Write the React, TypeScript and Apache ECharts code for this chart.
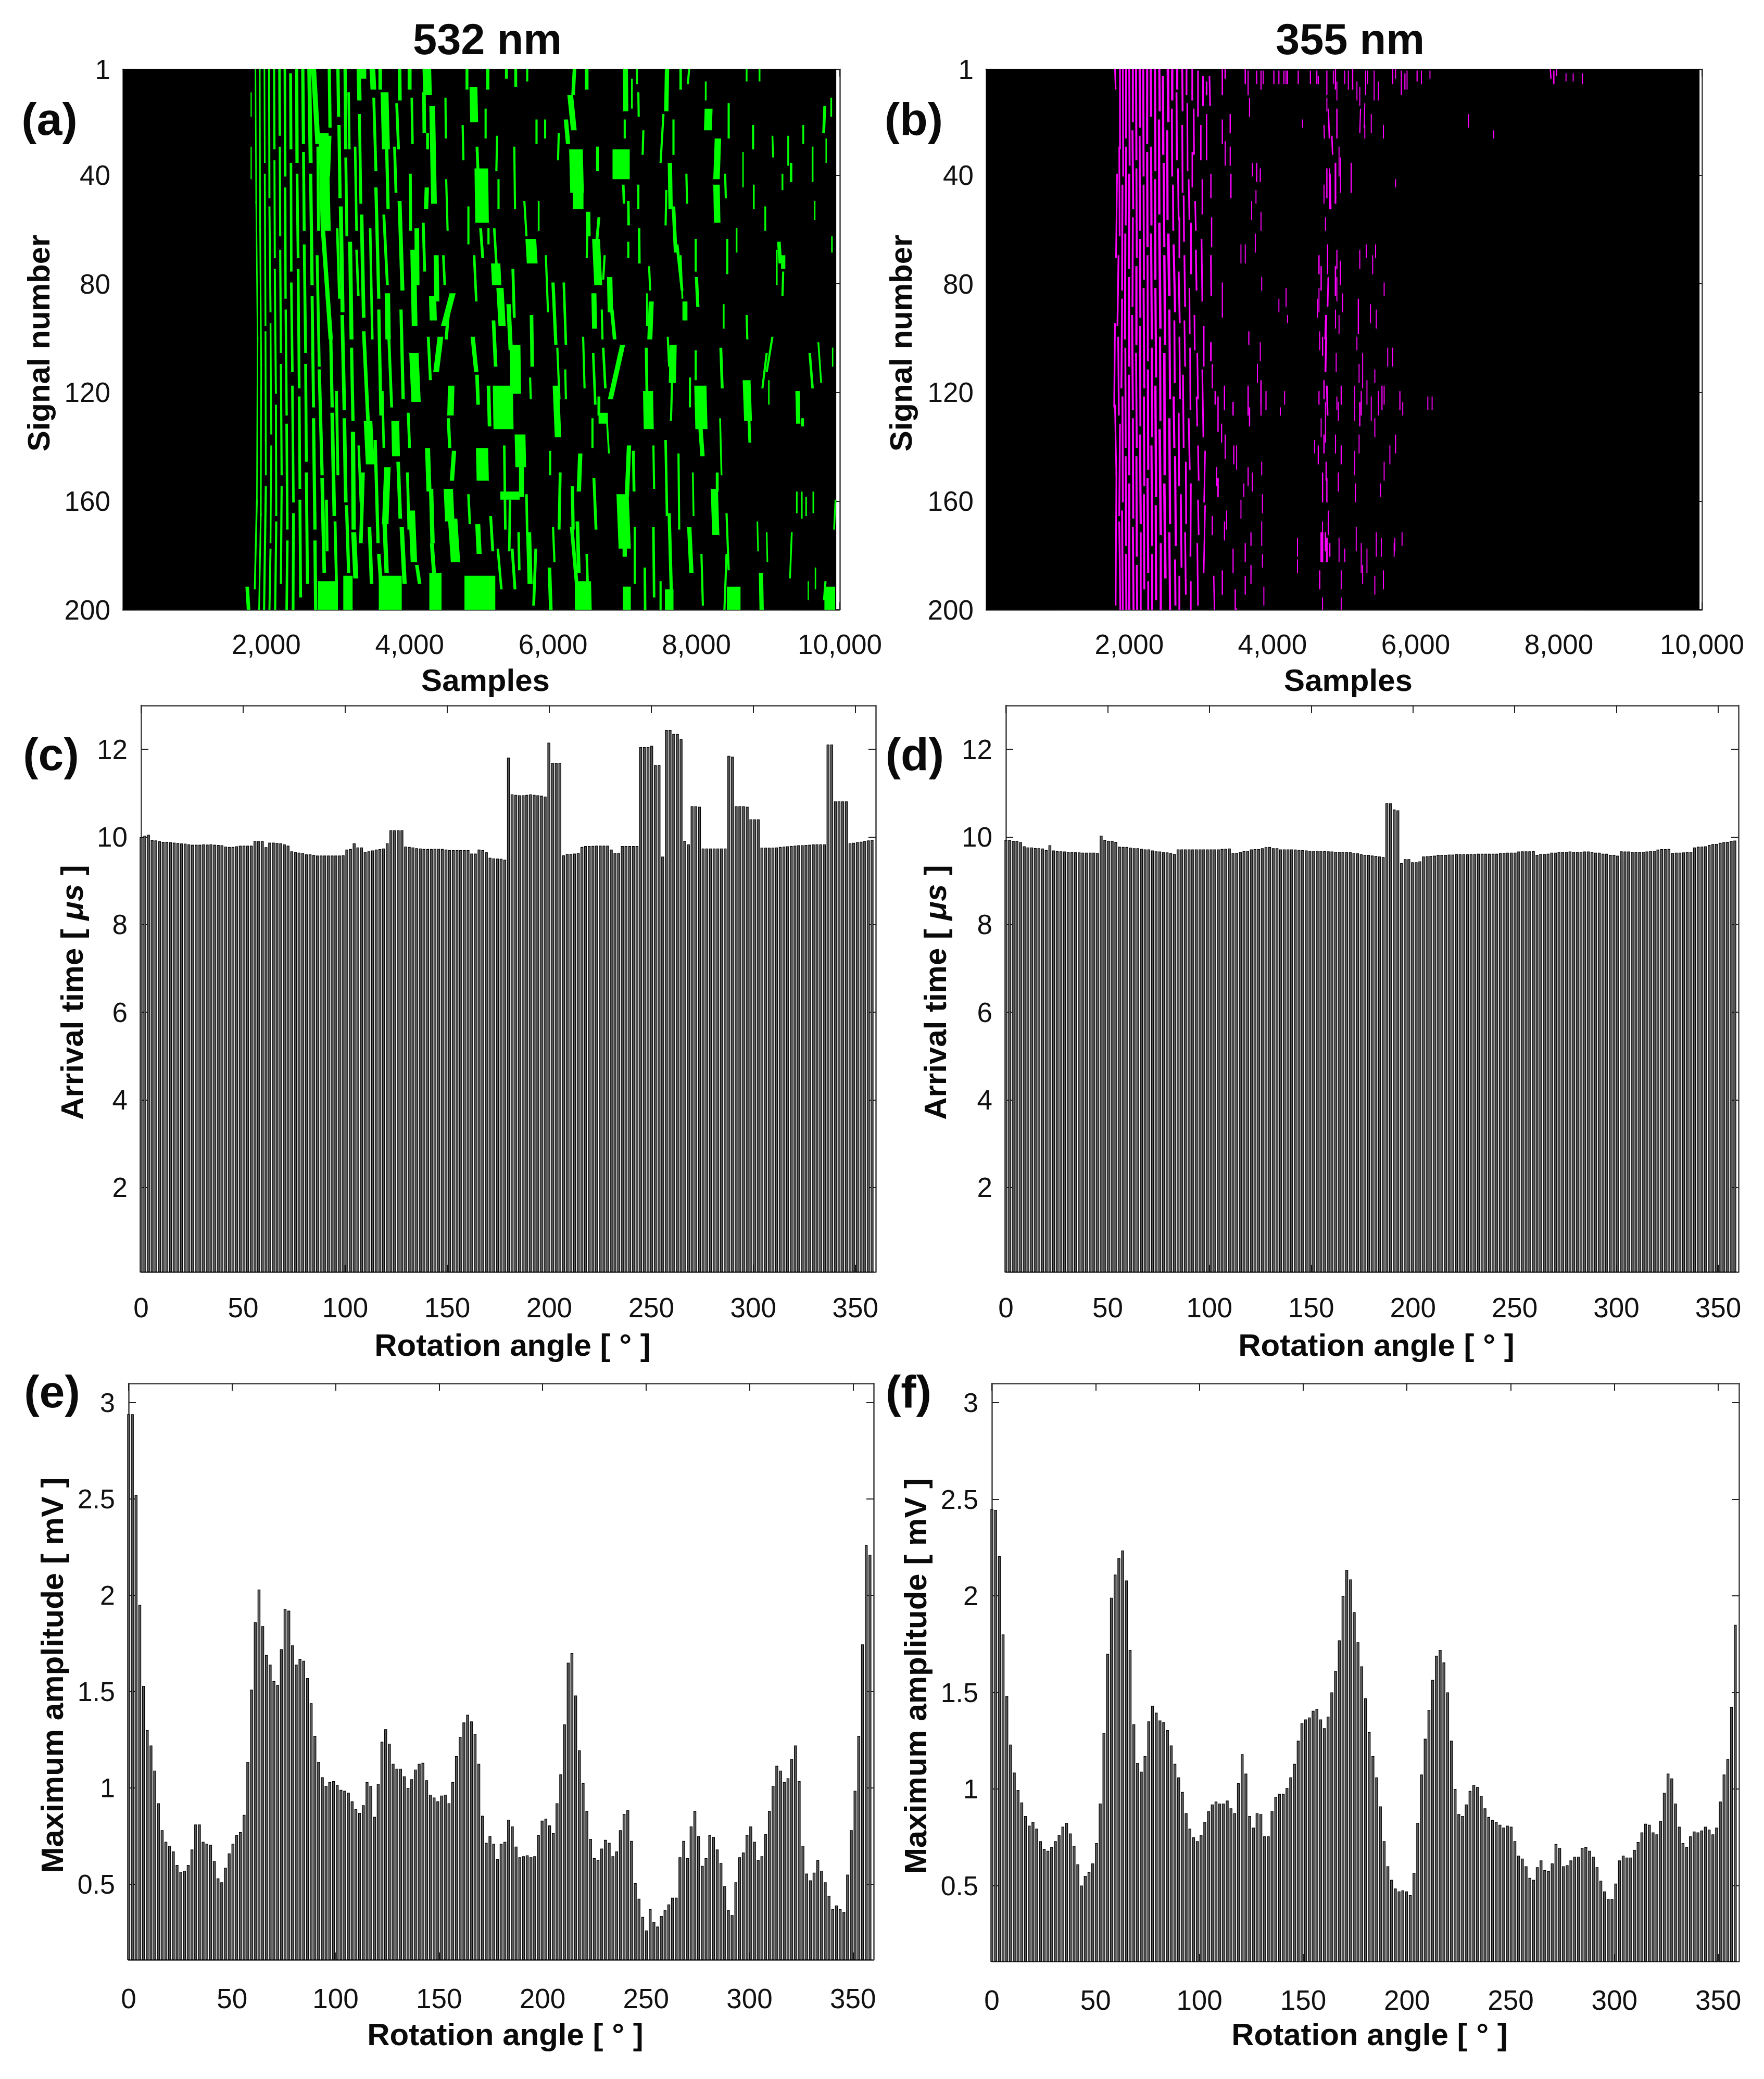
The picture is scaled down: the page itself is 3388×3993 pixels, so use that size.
import React, { useEffect, useRef } from "react";
import * as echarts from "echarts";

const FONT = "Liberation Sans";

// x, first signal, last signal, width in samples, optional drift of x along the streak
const greenStreaks: number[][] = [
[1850,1,50,20,10],[1860,50,100,20,20],[1880,100,160,20,-10],[1870,160,192,25,-30],[1735,192,200,50,20],[1790,10,18,16],[1790,30,41,16],
[1910,1,60,22,5],[1915,60,110,22,15],[1930,110,165,22,-5],[1925,165,200,22,-25],
[1975,1,35,22,5],[1980,40,95,25,10],[1990,98,150,25,5],[1995,155,200,30,-25],
[2040,1,48,28,5],[2045,52,90,28,15],[2060,95,135,25,10],[2070,140,175,25,-10],[2060,178,200,28,-15],
[2110,1,30,30,5],[2115,35,70,28,5],[2120,75,120,28,15],[2135,125,165,28,5],[2140,168,200,30,-15],
[2185,1,25,35,5],[2190,30,62,30,5],[2195,68,105,30,10],[2205,110,150,30,10],[2215,155,190,30,-10],
[2260,1,40,35,5],[2265,45,85,32,5],[2272,90,128,32,13],[2285,132,170,35,10],[2295,175,200,35,-10],
[2340,3,30,40,5],[2345,36,75,35,5],[2350,80,112,35,15],[2365,118,160,35,15],[2380,165,200,38,-5],
[2425,1,35,45,5],[2430,40,70,38,15],[2445,75,118,38,15],[2460,122,155,38,10],[2470,160,195,40,10],
[2510,1,28,45,10],[2520,32,60,40,10],[2530,66,105,40,20],[2550,110,145,40,10],[2560,150,190,42,15],
[2600,1,35,55,20],[2620,40,80,45,20],[2640,85,125,42,20],[2660,130,170,45,20],[2680,175,200,45,10],
[2660,1,28,70,60],[2800,25,60,140,30],[2790,60,100,60,110],[2710,70,110,40,30],[2740,112,150,45,40],[2780,152,186,50,30],[2720,30,60,40,10],
[2860,190,200,280],[2880,1,22,45,10],[2890,26,40,40,-20],[2900,100,125,45,20],[2920,128,165,50,30],[2960,168,190,40,20],[2840,160,178,40,10],
[3140,188,200,130],[3000,1,18,45,10],[3015,22,48,45,15],[3040,52,90,55,25],[3060,92,126,50,30],[3090,130,160,50,20],[3120,162,186,45,30],[2990,60,85,35,30],[2980,120,150,40,20],
[3100,1,30,45,10],[3110,34,62,40,15],[3170,65,100,55,20],[3190,104,130,45,20],[3210,135,170,60,10],[3220,172,188,70,30],[3150,10,30,35,10],
[3290,1,12,60,10],[3330,1,4,130],[3300,18,50,40,20],[3330,55,92,50,30],[3360,98,130,50,60],[3420,131,146,120,30],[3350,150,175,50,-30],[3290,140,160,35,30],[3240,30,60,35,20],[3260,68,84,35,25],
[3480,1,8,80,15],[3500,12,38,40,30],[3530,45,85,45,40],[3570,90,128,45,30],[3450,60,100,35,30],[3520,138,175,45,40],[3570,180,190,50,30],[3440,170,190,50,30],
[3650,10,30,110,20],[3680,30,52,45,20],[3640,55,80,40,50],[3690,84,100,75,10],[3710,100,125,40,40],[3800,131,143,110,10],[3690,148,168,90,-30],[3650,168,186,60,30],[3730,188,200,320],[3590,1,8,50],[3620,120,140,35,20],
[3860,1,12,50,5],[3790,30,46,40,20],[3860,50,82,55,40],[3880,90,122,45,30],[3840,146,166,50,30],[3890,170,190,60,40],[3820,14,30,40,25],
[4000,1,8,55],[4030,12,28,35,10],[4050,68,95,80,20],[4100,60,80,65,5],[4060,106,123,130,30],[4010,40,60,40,5],[4030,164,182,90,30],[3980,128,140,40,20],[3970,150,170,40,20],[4100,184,190,50,40],
[4240,1,10,120,10],[4200,10,24,50,5],[4250,25,30,40],[4315,15,50,80,25],[4240,45,52,60,-10],[4190,58,75,40,20],[4250,141,156,70,20],[4300,156,175,60,20],[4320,85,93,100,10],[4360,187,200,170],[4260,100,115,40,30],[4370,70,86,70,10],[4310,176,186,55,30],
[4600,84,95,85,-120],[4430,100,112,80,-60],[4540,156,167,130,20],[4600,167,182,130,40],[4550,88,100,45,-40],[4580,118,128,90,-10],[4540,130,140,45,20],[4500,12,26,30,5],[4510,42,60,30,20],[4620,142,152,60,-30],[4470,70,80,35,20],
[4890,8,20,110,10],[4800,1,8,40],[4740,22,34,30,10],[5000,38,57,190,10],[4880,100,112,60,50],[4940,114,124,50,15],[4820,158,168,35,20],[4950,169,179,70,20],[4980,188,200,430],[4940,30,42,40,20],[4820,52,65,30],[5010,141,152,170,10],[4990,60,70,40,30],[4900,70,86,35,30],[5100,118,132,50,15],
[5200,73,80,130,15],[5180,60,72,35,30],[5260,82,95,100,30],[5090,1,8,45],[5060,16,26,30],[5220,26,38,30,-10],[5100,60,65,30],[5300,118,133,280,10],[5130,166,178,40,30],[5230,178,192,35,50],[5320,140,170,35,15],[5240,42,52,30],[5170,94,110,50,30],
[5470,103,120,150,10],[5400,157,159,270],[5380,88,104,60,30],[5440,75,92,40,20],[5400,160,178,35,-10],[5540,136,147,150,10],[5480,1,7,40],[5350,1,4,40],[5560,147,158,70],[5430,178,192,40,40],[5460,30,52,30,10],[5630,158,172,35,10],[5520,172,185,35,10],
[5690,64,72,150,20],[5600,50,62,30,30],[5640,1,5,30],[5700,92,110,50,10],[5660,172,190,70,20],[5760,178,198,40,-30],[5770,20,28,30],[5680,115,122,30,10],[5800,50,60,25],
[6040,118,136,90,30],[5890,20,26,30],[6000,80,102,45,40],[6060,104,122,30,30],[5950,185,200,50,20],[5900,70,90,30,30],[6100,150,170,40,-15],[6080,25,34,30,-10],[5960,142,150,30],[6000,170,182,30,20],
[6240,11,23,80,50],[6180,20,28,60,30],[6320,31,46,190,15],[6350,46,52,150],[6300,1,10,50,-20],[6380,143,156,60,-20],[6270,155,170,45,10],[6400,190,200,190],[6260,170,190,50,70],[6340,168,186,50,20],[6150,80,102,35,30],[6170,112,122,30,10],[6420,100,118,30,20],
[6600,64,80,110,30],[6490,54,62,60,5],[6640,56,64,40,-30],[6570,84,96,70,10],[6470,1,8,50],[6480,60,70,30,-10],[6560,106,124,35,30],[6550,130,140,30],[6570,152,170,40,30],[6470,180,196,35,20],[6620,30,38,40],[6500,190,200,60,10],
[6790,78,90,75,10],[6820,90,100,50,40],[6970,103,122,70,-170],[6700,128,131,130],[6750,130,142,25,30],[6640,122,128,40],[6720,70,78,30,-20],[6700,104,118,35,30],[6680,90,100,30,10],
[6950,31,41,240],[7010,1,16,70,5],[6980,44,50,35,10],[7050,50,58,35,5],[7050,65,70,30],[7000,20,26,30],[7060,140,158,60,-30],[6970,158,177,170,30],[7030,192,200,110],[7100,5,15,25],[7120,142,156,40,10],[7000,177,180,60],[7170,1,6,30],
[7200,60,72,35,5],[7190,10,18,30,5],[7190,44,52,30],[7260,24,32,30,-10],[7370,87,100,70,-20],[7325,120,133,140,10],[7300,104,120,40,10],[7400,140,155,30,10],[7340,74,82,30,15],[7310,84,95,25],[7400,170,195,35,10],[7280,185,200,35,5],[7140,170,190,30],
[7590,1,16,60,-10],[7630,36,52,60,10],[7540,18,35,30,-40],[7680,52,68,50,30],[7730,66,82,40,70],[7840,87,93,70],[7500,190,200,30],[7675,103,116,100,-10],[7600,100,110,30,20],[7660,117,130,30,-15],[7570,138,165,35,20],[7620,165,193,45,30],[7620,193,200,120],[7750,143,170,30,10],[7680,20,32,30],[7580,46,58,30,-10],[7780,1,8,35],[7860,40,50,30,10],
[7900,170,186,60,30],[7990,64,75,30],[8000,78,88,45,20],[7910,115,125,30],[7950,150,165,25,10],[8170,16,23,110,-10],[8055,118,133,170,15],[8055,133,143,60,30],[7990,105,115,30],[8130,6,12,25],[7900,1,6,30,-20],[8070,180,198,30,20],[7780,70,85,25,25],
[8300,27,41,90,-20],[8280,44,57,90,10],[8250,156,172,100,20],[8420,165,185,30,30],[8330,130,150,25,20],[8290,150,156,40],[8450,14,26,30],[8400,40,48,30,10],[8340,104,118,40,20],[8430,64,76,30],[8420,180,200,30,-30],[8520,192,200,190],[8380,88,96,25],[8560,60,68,25],
[8700,116,130,110,20],[8730,128,138,40,15],[8700,92,100,30,10],[8960,52,60,25],[8800,44,52,25],[8900,187,200,60,10],[8790,22,30,30],[8980,106,118,30,-60],[9060,100,112,30,-80],[8700,1,5,25],[8880,1,5,25],[9010,116,124,20],[8650,32,44,20],[8850,168,178,22,10],[8980,172,182,22,10],
[9120,68,80,25],[9150,65,72,50,20],[9210,70,74,60],[9060,26,33,25,10],[9210,76,84,30,-10],[9280,26,36,25],[9410,120,131,60,10],[9320,36,42,35],[9200,40,45,25],[9330,172,188,25,-25],[9400,157,164,22],[9470,157,166,22],[9530,159,165,22],[9630,157,164,22],[9490,22,28,25],[9580,106,118,35,40],[9700,102,116,25,40],[9790,15,24,40,-15],[9620,30,42,25],[9650,50,56,20],[9480,130,132,40],[9660,185,192,20],
[9860,192,200,150],[9880,12,18,25],[9810,27,35,20],[9890,63,68,22],[9900,104,110,20],[9940,160,170,25,-20],[9800,190,196,30,-20],[9560,190,196,18],
];

const magentaStreaks: number[][] = [
[1800,1,8,22,10],[1830,40,70,22,-15],[1800,95,125,24,-10],[1800,125,150,22,20],[1820,150,198,22,-10],
[1870,1,30,24,0],[1860,30,62,22,5],[1850,70,95,24,-15],[1845,100,128,24,10],[1870,132,165,24,-10],[1860,168,200,24,15],
[1910,1,40,24,5],[1905,44,82,26,-5],[1900,86,118,26,-10],[1905,122,160,26,5],[1900,164,200,26,10],
[1955,1,26,26,0],[1955,30,58,26,-5],[1945,62,100,28,-5],[1945,104,140,26,5],[1950,144,176,26,5],[1955,180,200,28,5],
[2000,1,36,26,5],[2000,40,74,28,-5],[1995,78,110,28,5],[1995,114,150,28,5],[2000,154,200,28,0],
[2050,1,20,28,0],[2045,24,52,28,10],[2050,56,88,26,-5],[2040,92,126,28,10],[2050,130,166,28,5],[2050,170,200,28,10],
[2095,1,34,28,5],[2100,38,70,26,5],[2100,74,102,30,0],[2095,106,140,26,10],[2100,144,180,28,5],[2105,184,200,26,5],
[2145,1,22,30,5],[2145,26,60,26,5],[2150,64,92,28,5],[2150,96,132,26,5],[2150,136,168,30,10],[2160,172,200,26,0],
[2195,1,40,28,5],[2200,44,78,26,5],[2200,82,118,28,10],[2205,122,154,28,5],[2205,158,192,28,5],
[2250,1,28,30,0],[2250,32,66,30,5],[2255,70,108,26,5],[2260,112,148,30,5],[2255,152,186,30,10],[2265,190,200,26,0],
[2300,1,18,32,5],[2305,30,58,30,5],[2305,62,100,30,10],[2315,104,136,30,5],[2310,140,176,30,10],[2320,180,200,30,0],
[2360,1,38,28,5],[2360,42,78,30,5],[2365,82,114,30,10],[2365,118,158,32,10],[2370,162,196,30,5],
[2420,1,16,30,5],[2415,20,54,32,5],[2420,58,96,34,15],[2430,100,130,30,5],[2425,134,172,34,15],[2440,176,200,30,0],
[2470,4,32,32,5],[2480,36,66,30,10],[2490,70,102,32,10],[2490,106,150,34,5],[2490,154,188,34,15],
[2540,1,20,36,5],[2530,24,56,30,5],[2545,62,84,36,15],[2560,90,122,30,10],[2560,130,168,32,10],[2560,172,200,30,10],
[2600,1,12,32],[2595,16,40,26,5],[2610,44,60,26,5],[2620,66,90,30,20],[2630,94,116,26,5],[2620,122,140,30,10],[2640,144,176,30,10],[2640,182,198,28,5],
[2670,1,8,30],[2660,10,34,26,5],[2680,38,56,24,10],[2700,56,70,24],[2690,76,94,26,15],[2700,100,122,24,10],[2690,128,154,26,5],[2720,158,184,26,10],[2700,188,200,26],
[2740,1,16,26,5],[2740,22,46,24,5],[2760,48,64,24,5],[2770,70,88,24,10],[2770,94,110,22,10],[2750,114,140,24,10],[2790,146,168,24,5],[2780,172,194,24,10],
[2800,1,10,24],[2810,14,38,22,5],[2830,42,56,22,10],[2860,58,76,26,5],[2840,82,98,22,5],[2850,104,126,24,5],[2830,130,148,24,15],[2860,154,180,24,-5],[2860,190,200,22],
[2880,1,12,24],[2900,16,32,22,5],[2880,32,44,20],[2920,50,60,22,10],[2930,68,82,24,10],[2910,92,104,22,5],[2950,106,122,22,10],[2940,122,132,22,10],[2960,140,152,22,10],[2960,160,172,22,10],[2950,176,198,22,10],
[2960,2,18,22],[3030,4,14,22],[3000,22,34,20],[3020,42,54,20],[3010,64,86,22,10],[3040,96,110,22],[3020,112,136,22,15],[3060,142,160,20,-15],[3060,162,186,20,-20],[3080,6,10,22],
[3080,18,34,20],[3120,4,14,22,10],[3140,40,48,18],[3150,56,66,18],[3140,70,84,22,5],[3140,102,108,22],[3160,110,118,18],[3200,120,124,18],[3240,122,134,18],[3180,188,200,18,10],[3160,166,172,18],[3220,148,154,18],[3240,152,158,20],
[3300,1,10,20],[3340,1,4,20],[3300,20,28,18],[3340,28,36,16],[3330,118,126,18],[3300,80,92,16],[3290,132,138,16],[3340,136,144,16],[3330,168,174,16],[3360,164,170,16],[3300,186,194,18],[3410,18,24,18],[3410,30,36,16],[3420,40,48,18],[3450,124,128,18],[3460,140,146,16],[3450,178,186,16],
[3480,193,200,18],[3500,200,200,14],[3620,1,6,18],[3660,2,10,16],[3680,12,18,16],[3660,118,128,18],[3680,126,132,18],[3720,36,40,16],[3710,50,56,14],[3670,98,102,16],[3660,148,154,16],[3700,172,176,16],[3700,184,190,16],[3720,150,156,16],[3560,160,166,14],[3500,140,148,14],[3600,154,158,14],[3620,176,182,16],[3620,188,194,16],[3560,66,72,14],[3620,66,72,14],
[3780,2,6,16],[3780,36,42,18],[3840,2,8,16],[3870,2,6,14],[3830,38,42,16],[3770,46,50,14],[3760,62,68,14],[3840,54,60,14],[3850,78,82,14],[3840,116,124,18],[3830,102,108,14],[3790,110,116,14],[3850,168,176,14],[3840,118,128,16],[3860,180,184,14],[3910,120,126,16],[3880,192,198,14],[3860,158,164,14],[3850,146,150,14],[4020,2,6,16],[4090,2,6,16],[4090,86,90,14],[4110,126,128,14],[4160,2,6,16],[4190,82,88,14],[4210,92,94,14],[4170,120,124,14],[4210,2,6,14],[4190,2,6,14],
[4360,2,6,16],[4420,20,22,14],[4350,174,180,14],[4350,182,186,14],[4530,2,6,16],[4620,2,6,16],
[4640,4,6,16],[4720,22,26,16,5],[4700,150,160,18],[4590,138,142,14],[4640,140,146,16],[4650,70,76,18],[4650,82,90,14],[4630,86,92,14],[4660,98,104,14],[4690,172,182,40],[4700,168,172,14],[4660,186,192,18],[4700,196,200,14],[4650,120,124,16],[4680,130,136,14],
[4760,2,10,16],[4760,12,16,14],[4780,16,26,20,15],[4830,26,32,20,10],[4800,40,52,30,10],[4760,38,48,18],[4800,38,52,16],[4770,66,76,18],[4780,78,88,22,-10],[4720,44,50,14],[4740,56,60,14],[4750,92,100,30,-10],[4700,100,106,18],[4750,100,112,26,-10],[4720,116,122,18],[4760,118,128,24,10],[4740,124,138,14],[4720,136,142,18],[4750,146,152,18],[4760,152,160,18],[4780,164,172,14],[4740,172,178,20],[4800,176,180,20],[4760,174,182,24],[4680,74,82,18],
[4880,1,8,18],[4850,2,6,14],[4900,6,12,14],[4900,16,26,18],[4880,36,50,24],[4930,30,40,14],[4900,68,74,16],[4880,74,84,20],[4900,78,86,14],[4950,72,80,18],[4980,84,90,14],[4880,90,96,14],[4930,92,98,14],[4890,106,112,14],[4960,118,124,16],[4920,124,130,14],[4880,136,142,14],[4960,140,146,16],[4920,150,156,16],[4900,122,126,14],[4960,196,200,14],[4930,174,182,14],[5010,178,182,16],[4960,186,192,14],[4950,34,46,14],[5010,2,6,14],[5060,2,8,14],
[5120,1,8,18],[5100,36,46,18],[5180,6,12,14],[5220,8,14,14],[5230,16,24,16,-10],[5290,14,22,14,-10],[5290,22,26,14],[5220,68,74,14],[5310,66,70,14],[5200,86,98,18],[5180,100,104,14],[5210,110,116,14],[5260,106,118,14],[5150,118,130,14],[5220,124,132,18],[5150,142,150,14],[5240,120,128,16],[5160,154,160,14],[5320,116,124,14],[5210,136,142,14],[5170,170,178,14],[5320,178,186,14],[5240,176,186,14],[5260,184,190,14],[5300,2,10,14],[5330,2,6,14],[5420,2,12,14],[5380,18,24,14],[5440,66,70,14],[5400,70,76,14],
[5480,6,12,14],[5550,22,26,14],[5450,90,96,14],[5370,88,94,14],[5430,112,116,14],[5480,120,128,14],[5430,130,136,14],[5380,122,130,14],[5530,118,126,16],[5560,146,152,14],[5560,80,84,14],[5560,118,124,14],[5610,104,110,14],[5680,104,110,14],[5720,42,44,14],[5700,176,180,14],[5720,136,142,14],[5640,140,146,14],[5510,154,158,14],[5450,172,180,14],[5430,188,194,14],[5520,174,180,14],[5550,186,192,14],[5780,120,126,16],[5820,124,128,14],[5810,172,176,14],[5710,174,178,14],
[5800,2,10,16],[5850,3,8,16],[5880,2,8,14],[6020,2,5,16],[6080,2,6,14],[6200,2,4,14],[6170,122,126,14],[6230,122,126,14],[5680,1,6,16],[5720,1,4,14],
[6740,18,22,14],[7090,24,26,14],[7880,1,4,18,10],[7930,2,6,18],[7970,1,3,16],[8100,3,5,14],[8200,3,5,14],[8330,3,6,14],
];

const arrival532 = [
10.0,10.03,10.05,9.93,9.92,9.9,9.885,9.885,9.88,9.87,
9.86,9.85,9.845,9.83,9.82,9.82,9.82,9.83,9.825,9.83,
9.82,9.815,9.81,9.78,9.77,9.77,9.785,9.8,9.8,9.8,
9.8,9.905,9.905,9.905,9.765,9.87,9.87,9.86,9.855,9.83,
9.8,9.67,9.655,9.64,9.63,9.6,9.6,9.585,9.575,9.575,
9.575,9.575,9.575,9.575,9.575,9.58,9.71,9.725,9.855,9.76,
9.76,9.65,9.67,9.69,9.71,9.72,9.735,9.855,10.15,10.15,
10.15,10.15,9.78,9.77,9.76,9.74,9.735,9.725,9.725,9.725,
9.73,9.73,9.725,9.71,9.7,9.7,9.7,9.7,9.7,9.7,
9.62,9.62,9.71,9.7,9.65,9.525,9.51,9.505,9.5,9.48,
11.81,10.97,10.96,10.95,10.95,10.96,10.97,10.96,10.95,10.94,
10.92,12.15,11.69,11.69,11.69,9.58,9.61,9.61,9.62,9.63,
9.77,9.79,9.79,9.795,9.8,9.8,9.8,9.8,9.71,9.63,
9.63,9.79,9.79,9.79,9.79,9.79,12.05,12.05,12.05,12.08,
11.64,11.64,9.55,12.44,12.44,12.35,12.35,12.23,9.91,9.83,
10.7,10.7,10.69,9.735,9.735,9.735,9.735,9.735,9.735,9.735,
11.85,11.83,10.7,10.7,10.7,10.69,10.4,10.4,10.4,9.755,
9.755,9.755,9.755,9.76,9.77,9.78,9.785,9.79,9.8,9.81,
9.81,9.815,9.82,9.83,9.83,9.83,9.83,12.11,12.11,10.81,
10.81,10.81,10.81,9.855,9.865,9.88,9.89,9.91,9.92,9.93,
];

const arrival355 = [
9.93,9.93,9.91,9.91,9.88,9.785,9.76,9.76,9.745,9.74,
9.735,9.7,9.81,9.69,9.68,9.67,9.665,9.66,9.655,9.65,
9.645,9.64,9.64,9.64,9.64,9.63,10.03,9.93,9.91,9.91,
9.885,9.775,9.77,9.77,9.755,9.74,9.74,9.73,9.715,9.715,
9.69,9.67,9.665,9.65,9.645,9.63,9.61,9.715,9.715,9.715,
9.715,9.715,9.715,9.715,9.715,9.715,9.715,9.715,9.715,9.725,
9.73,9.735,9.63,9.635,9.655,9.68,9.685,9.715,9.72,9.72,
9.74,9.765,9.77,9.74,9.74,9.715,9.715,9.715,9.715,9.71,
9.705,9.695,9.69,9.685,9.685,9.685,9.685,9.675,9.67,9.665,
9.66,9.66,9.66,9.655,9.65,9.63,9.625,9.605,9.59,9.59,
9.575,9.565,9.555,9.54,10.77,10.765,10.625,10.605,9.4,9.49,
9.49,9.42,9.42,9.44,9.555,9.56,9.565,9.57,9.59,9.59,
9.59,9.595,9.595,9.61,9.605,9.605,9.605,9.61,9.61,9.615,
9.615,9.615,9.615,9.615,9.615,9.63,9.635,9.64,9.64,9.64,
9.665,9.67,9.67,9.67,9.675,9.59,9.61,9.61,9.615,9.64,
9.64,9.655,9.655,9.66,9.665,9.66,9.66,9.66,9.665,9.665,
9.655,9.64,9.64,9.615,9.615,9.59,9.59,9.57,9.67,9.665,
9.665,9.66,9.655,9.655,9.66,9.665,9.685,9.685,9.71,9.72,
9.72,9.725,9.635,9.64,9.64,9.645,9.655,9.66,9.76,9.775,
9.78,9.785,9.815,9.835,9.84,9.865,9.88,9.885,9.91,9.915,
];

const amplitude532 = [
2.94,2.94,2.52,1.95,1.53,1.3,1.22,1.09,0.92,0.78,
0.72,0.7,0.67,0.6,0.565,0.57,0.6,0.68,0.81,0.81,
0.72,0.71,0.705,0.62,0.53,0.51,0.585,0.66,0.71,0.755,
0.77,0.86,1.135,1.51,1.86,2.03,1.84,1.69,1.64,1.555,
1.535,1.72,1.93,1.92,1.74,1.64,1.67,1.66,1.57,1.44,
1.27,1.135,1.055,1.01,1.03,1.035,1.015,0.99,0.985,0.975,
0.93,0.89,0.87,0.91,1.03,1.01,0.85,1.02,1.24,1.305,
1.23,1.125,1.1,1.1,1.06,1.0,1.045,1.095,1.125,1.13,
1.04,0.965,0.95,0.93,0.96,0.965,0.92,1.03,1.165,1.265,
1.34,1.38,1.345,1.28,1.125,0.855,0.715,0.75,0.71,0.63,
0.71,0.72,0.835,0.8,0.695,0.64,0.645,0.65,0.64,0.645,
0.755,0.83,0.84,0.805,0.765,0.92,1.07,1.33,1.65,1.7,
1.48,1.195,1.025,0.88,0.735,0.635,0.625,0.685,0.73,0.715,
0.645,0.67,0.78,0.865,0.885,0.725,0.505,0.425,0.33,0.26,
0.37,0.305,0.28,0.335,0.365,0.395,0.43,0.43,0.64,0.725,
0.635,0.8,0.88,0.75,0.595,0.635,0.755,0.745,0.68,0.61,
0.49,0.365,0.34,0.51,0.64,0.665,0.755,0.8,0.72,0.625,
0.645,0.76,0.88,1.01,1.115,1.09,1.03,1.05,1.15,1.22,
1.035,0.7,0.555,0.52,0.56,0.625,0.57,0.51,0.44,0.37,
0.39,0.37,0.355,0.55,0.78,0.985,1.27,1.745,2.26,2.21,
];

const amplitude355 = [
2.45,2.445,2.205,1.8,1.48,1.23,1.085,0.995,0.93,0.86,
0.81,0.83,0.795,0.73,0.69,0.68,0.7,0.73,0.76,0.805,
0.825,0.77,0.705,0.61,0.5,0.55,0.57,0.615,0.72,0.925,
1.29,1.7,1.99,2.11,2.195,2.235,2.08,1.72,1.335,1.135,
1.09,1.17,1.35,1.43,1.395,1.355,1.345,1.305,1.225,1.13,
1.06,0.985,0.875,0.795,0.75,0.73,0.76,0.83,0.885,0.92,
0.935,0.925,0.925,0.94,0.9,0.875,1.03,1.18,1.08,0.86,
0.8,0.875,0.87,0.755,0.755,0.885,0.96,0.975,0.975,1.005,
1.06,1.13,1.25,1.34,1.36,1.37,1.405,1.415,1.36,1.315,
1.375,1.5,1.61,1.77,2.0,2.135,2.085,1.915,1.76,1.635,
1.47,1.295,1.17,1.06,0.91,0.73,0.6,0.53,0.485,0.47,
0.475,0.47,0.45,0.565,0.825,1.075,1.26,1.41,1.565,1.69,
1.72,1.655,1.5,1.25,1.0,0.87,0.86,0.92,0.99,1.02,
1.01,0.965,0.9,0.855,0.84,0.83,0.815,0.8,0.81,0.805,
0.73,0.655,0.64,0.6,0.54,0.53,0.595,0.63,0.58,0.575,
0.615,0.715,0.695,0.6,0.605,0.63,0.65,0.65,0.695,0.7,
0.68,0.65,0.595,0.525,0.47,0.43,0.43,0.51,0.63,0.655,
0.645,0.645,0.685,0.725,0.775,0.82,0.815,0.775,0.765,0.835,
0.98,1.08,1.055,0.925,0.805,0.72,0.7,0.755,0.78,0.775,
0.785,0.805,0.79,0.765,0.8,0.935,1.075,1.155,1.425,1.85,
];

const angleStep = 1.8;
const sampleTicks = [2000, 4000, 6000, 8000, 10000];
const signalTicks = [1, 40, 80, 120, 160, 200];
const angleTicks = [0, 50, 100, 150, 200, 250, 300, 350];
const arrivalTicks = [2, 4, 6, 8, 10, 12];
const amplitudeTicks = [0.5, 1, 1.5, 2, 2.5, 3];

const grids = [
  { left: 236, top: 133, width: 1377, height: 1038 },
  { left: 1894, top: 133, width: 1375, height: 1038 },
  { left: 271, top: 1355, width: 1411, height: 1088 },
  { left: 1932, top: 1355, width: 1407, height: 1088 },
  { left: 247, top: 2657, width: 1431, height: 1107 },
  { left: 1905, top: 2657, width: 1435, height: 1110 },
];

const LINE = { show: true, onZero: false, lineStyle: { color: "#3c3c3c", width: 2.5 } };

function tickCfg(values: number[], size = 14) {
  return { show: true, inside: true, length: size, customValues: values, lineStyle: { color: "#222", width: 2 } };
}

function mainLabel(values: number[], fontSize: number, margin: number) {
  return { show: true, customValues: values, fontFamily: FONT, fontSize, color: "#111", margin, hideOverlap: false, showMinLabel: true, showMaxLabel: true };
}

const nameStyle = (pad: number[] = [0, 0, 0, 0]) => ({
  fontFamily: FONT, fontSize: 60, fontWeight: "bold", color: "#0a0a0a", padding: pad,
  rich: { mu: { fontFamily: FONT, fontSize: 60, fontWeight: "bold", fontStyle: "italic", color: "#0a0a0a" } },
});

function xPair(gridIndex: number, cfg: any) {
  const base = { type: "value", gridIndex, min: cfg.min, max: cfg.max, splitLine: { show: false }, axisLine: LINE };
  return [
    { ...base, position: "bottom", axisTick: tickCfg(cfg.ticks), axisLabel: mainLabel(cfg.ticks, cfg.fontSize, cfg.margin),
      name: cfg.name, nameLocation: "middle", nameGap: cfg.nameGap, nameTextStyle: nameStyle([0, 0, 0, 16]) },
    { ...base, position: "top", axisTick: tickCfg(cfg.ticks), axisLabel: { show: false } },
  ];
}

function yPair(gridIndex: number, cfg: any) {
  const base = { type: "value", gridIndex, min: cfg.min, max: cfg.max, inverse: !!cfg.inverse, splitLine: { show: false }, axisLine: LINE };
  return [
    { ...base, position: "left", axisTick: tickCfg(cfg.ticks), axisLabel: mainLabel(cfg.ticks, cfg.fontSize, cfg.margin),
      name: cfg.name, nameLocation: "middle", nameGap: cfg.nameGap, nameTextStyle: nameStyle([0, 14, 0, 0]) },
    { ...base, position: "right", axisTick: tickCfg(cfg.ticks), axisLabel: { show: false } },
  ];
}

function imageBackground(xAxisIndex: number, yAxisIndex: number, extent: number[]) {
  return {
    type: "custom", xAxisIndex, yAxisIndex, silent: true, clip: true, z: 1,
    data: [extent],
    encode: { x: [0, 1], y: [2, 3] },
    renderItem: (_: any, api: any) => {
      const a = api.coord([api.value(0), api.value(2)]);
      const b = api.coord([api.value(1), api.value(3)]);
      return { type: "rect", shape: { x: a[0], y: a[1], width: b[0] - a[0], height: b[1] - a[1] }, style: { fill: "#000" } };
    },
  };
}

function streakSeries(xAxisIndex: number, yAxisIndex: number, streaks: number[][], fill: string) {
  return {
    type: "custom", xAxisIndex, yAxisIndex, silent: true, clip: true, z: 2,
    data: streaks.map((s) => [s[0], s[1], s[2], s[3], s[4] || 0]),
    encode: { x: [0], y: [1, 2] },
    renderItem: (_: any, api: any) => {
      const x = api.value(0), y1 = api.value(1) - 0.5, y2 = api.value(2) + 0.5, w = api.value(3), d = api.value(4);
      const pts = [
        api.coord([x - w / 2, y1]), api.coord([x + w / 2, y1]),
        api.coord([x + d + w / 2, y2]), api.coord([x + d - w / 2, y2]),
      ];
      return { type: "polygon", shape: { points: pts }, style: { fill } };
    },
  };
}

function barSeries(xAxisIndex: number, yAxisIndex: number, values: number[]) {
  return {
    type: "bar", xAxisIndex, yAxisIndex, barWidth: 5.4, clip: true, silent: true,
    itemStyle: { color: "#5c5c5c", borderColor: "#050505", borderWidth: 1.3 },
    data: values.map((v, i) => [i * angleStep, v]),
  };
}

const headings = [
  { text: "532 nm", x: 936, y: 75, size: 83 },
  { text: "355 nm", x: 2593, y: 75, size: 83 },
  { text: "(a)", x: 95, y: 228, size: 88 },
  { text: "(b)", x: 1755, y: 228, size: 88 },
  { text: "(c)", x: 98, y: 1448, size: 88 },
  { text: "(d)", x: 1757, y: 1448, size: 88 },
  { text: "(e)", x: 100, y: 2672, size: 88 },
  { text: "(f)", x: 1745, y: 2672, size: 88 },
];

export default function App() {
  const ref = useRef<HTMLDivElement>(null);
  useEffect(() => {
    const chart = echarts.init(ref.current!, null, { renderer: "svg" });
    const sx = { min: 1, max: 10000, ticks: sampleTicks, fontSize: 53, margin: 40, name: "Samples", nameGap: 105 };
    const sy = { min: 1, max: 200, inverse: true, ticks: signalTicks, fontSize: 53, margin: 24, name: "Signal number" };
    const ax = { min: 0, max: 360, ticks: angleTicks, fontSize: 53, name: "Rotation angle [ ° ]" };
    const tymin = 0.07, tymax = 13;
    chart.setOption({
      animation: false,
      backgroundColor: "#fff",
      grid: grids.map((g) => ({ ...g, containLabel: false, show: false })),
      xAxis: [
        ...xPair(0, sx), ...xPair(1, sx),
        ...xPair(2, { ...ax, margin: 42, nameGap: 110 }), ...xPair(3, { ...ax, margin: 42, nameGap: 110 }),
        ...xPair(4, { ...ax, margin: 48, nameGap: 113 }), ...xPair(5, { ...ax, margin: 48, nameGap: 110 }),
      ],
      yAxis: [
        ...yPair(0, { ...sy, nameGap: 132 }), ...yPair(1, { ...sy, nameGap: 134 }),
        ...yPair(2, { min: tymin, max: tymax, ticks: arrivalTicks, fontSize: 53, margin: 26, name: "Arrival time [ {mu|μs} ]", nameGap: 103 }),
        ...yPair(3, { min: tymin, max: tymax, ticks: arrivalTicks, fontSize: 53, margin: 26, name: "Arrival time [ {mu|μs} ]", nameGap: 106 }),
        ...yPair(4, { min: 0.108, max: 3.1, ticks: amplitudeTicks, fontSize: 52, margin: 26, name: "Maximum amplitude [ mV ]", nameGap: 117 }),
        ...yPair(5, { min: 0.108, max: 3.1, ticks: amplitudeTicks, fontSize: 52, margin: 26, name: "Maximum amplitude [ mV ]", nameGap: 117 }),
      ],
      series: [
        imageBackground(0, 0, [1, 9950, 1, 200]),
        streakSeries(0, 0, greenStreaks, "#00ff00"),
        imageBackground(2, 2, [1, 9965, 1, 200]),
        streakSeries(2, 2, magentaStreaks, "#ff00ff"),
        barSeries(4, 4, arrival532),
        barSeries(6, 6, arrival355),
        barSeries(8, 8, amplitude532),
        barSeries(10, 10, amplitude355),
      ],
      graphic: headings.map((h) => ({
        type: "text", x: h.x, y: h.y,
        style: { text: h.text, fontFamily: FONT, fontSize: h.size, fontWeight: "bold", fill: "#0a0a0a", textAlign: "center", textVerticalAlign: "middle" },
      })),
    });
    return () => chart.dispose();
  }, []);
  return <div ref={ref} style={{ position: "absolute", left: 0, top: 0, width: 3388, height: 3993 }} />;
}
